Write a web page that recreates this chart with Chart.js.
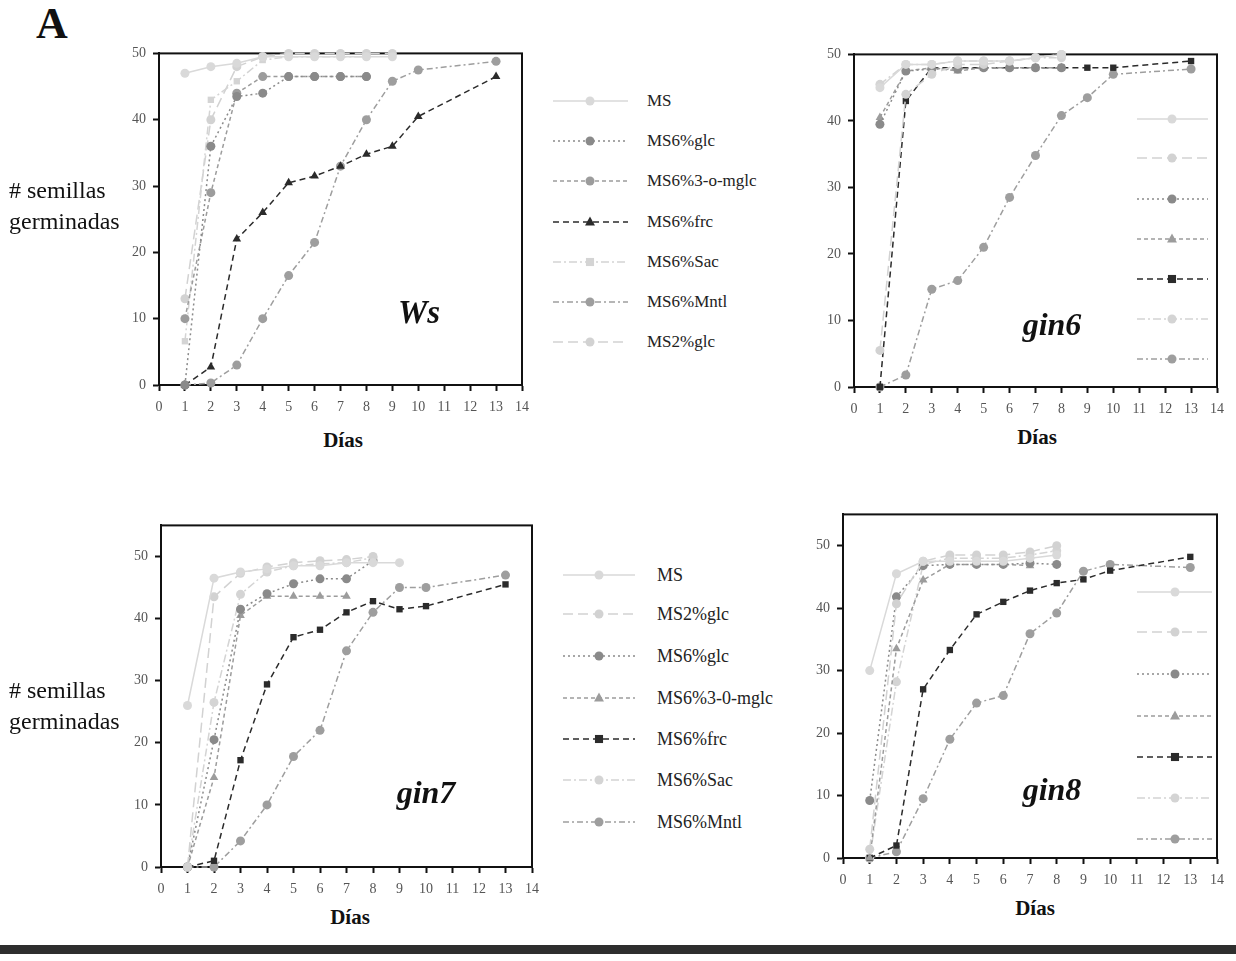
<!DOCTYPE html>
<html><head><meta charset="utf-8">
<script src="https://cdn.jsdelivr.net/npm/chart.js@4/dist/chart.umd.min.js"></script>
<style>
html,body{margin:0;padding:0;background:#fff;width:1236px;height:961px;overflow:hidden;position:relative;font-family:'Liberation Serif','DejaVu Serif',serif;}
canvas{position:absolute;}
.t{position:absolute;white-space:nowrap;color:#111;line-height:1;}
.lg{position:absolute;white-space:nowrap;color:#222;font-size:17px;line-height:20px;}
.bar{position:absolute;left:0;top:945px;width:1236px;height:9px;background:#2e2e2e;}
</style></head><body>
<script>
// ---------- data ----------
const days = [1,2,3,4,5,6,7,8,9,10,13];
const xTicks = [0,1,2,3,4,5,6,7,8,9,10,11,12,13,14];
const yTicks = [0,10,20,30,40,50];

// Ws
const ws_MS   = [47, 48, 48.5, 49.5, 49.5, 49.5, 49.5, 49.5, 49.5, null, null];
const ws_glc6 = [0, 36, 43.5, 44, 46.5, 46.5, 46.5, 46.5, null, null, null];
const ws_mglc = [10, 29, 44, 46.5, 46.5, 46.5, 46.5, 46.5, null, null, null];
const ws_frc  = [0, 2.7, 22, 26, 30.5, 31.5, 33, 34.8, 36, 40.5, 46.5];
const ws_sac  = [6.6, 43, 45.8, 49, 49.5, 49.5, 49.5, 49.5, null, null, null];
const ws_mntl = [0, 0.3, 3, 10, 16.5, 21.5, 33, 40, 45.8, 47.5, 48.8];
const ws_glc2 = [13, 40, 48, 49.5, 50, 50, 50, 50, 50, null, null];

// gin6
const g6_MS   = [45, 48.5, 48.5, 49, 49, 49, 49.5, 50, null, null, null];
const g6_glc2 = [5.5, 44, 47, 48.5, 48.5, 49, 49.5, 50, null, null, null];
const g6_glc6 = [39.5, 47.5, 47.8, 47.8, 48, 48, 48, 48, null, null, null];
const g6_mglc = [40.5, 47.5, 48, 47.5, 48, 48, 48, 48, null, null, null];
const g6_frc  = [0, 43, 48, 48, 48, 48, 48, 48, 48, 48, 49];
const g6_sac  = [45.5, 48.5, 48.5, 49, 49, 49, 49.5, 49.5, null, null, null];
const g6_mntl = [0, 1.8, 14.7, 16, 21, 28.5, 34.8, 40.8, 43.5, 47, 47.8];

// gin7
const g7_MS   = [26, 46.5, 47.5, 48, 48.5, 48.5, 49, 49, 49, null, null];
const g7_glc2 = [0, 43.5, 47.3, 48.3, 49, 49.3, 49.5, 50, null, null, null];
const g7_glc6 = [0, 20.5, 41.5, 44, 45.6, 46.4, 46.4, 49.3, null, null, null];
const g7_mglc = [0, 14.4, 40.5, 43.6, 43.6, 43.6, 43.6, null, null, null, null];
const g7_frc  = [0, 1, 17.2, 29.4, 37, 38.2, 41, 42.8, 41.5, 42, 45.5];
const g7_sac  = [0, 26.5, 43.9, 47.5, 48.5, 48.8, 49, 49.8, null, null, null];
const g7_mntl = [0, 0, 4.2, 10, 17.8, 22, 34.8, 41, 45, 45, 47];

// gin8
const g8_MS   = [30, 45.5, 47.5, 47.5, 47.5, 47.5, 48, 48.5, null, null, null];
const g8_glc2 = [1.4, 40.7, 47.5, 48.5, 48.5, 48.5, 49, 50, null, null, null];
const g8_glc6 = [9.2, 41.8, 46.8, 47, 47, 47, 47.2, 47, null, null, null];
const g8_mglc = [0, 33.5, 44.5, 47, 47, 47, 46.8, null, null, null, null];
const g8_frc  = [0, 2, 27, 33.3, 39, 41, 42.8, 44, 44.6, 46, 48.2];
const g8_sac  = [0, 28.2, 47, 48, 48, 48, 48.5, 49.2, null, null, null];
const g8_mntl = [0, 1, 9.5, 19, 24.8, 26, 35.9, 39.2, 45.9, 47, 46.5];

const wsNames  = ['MS','MS6%glc','MS6%3-o-mglc','MS6%frc','MS6%Sac','MS6%Mntl','MS2%glc'];
const ginNames = ['MS','MS2%glc','MS6%glc','MS6%3-0-mglc','MS6%frc','MS6%Sac','MS6%Mntl'];

// ---------- styles ----------
const STY = {
  MS:   {c:'#d9d9d9', dash:[], pt:'circle'},
  glc2: {c:'#d2d2d2', dash:[10,5], pt:'circle'},
  glc6: {c:'#8a8a8a', dash:[2,3], pt:'circle'},
  mglc: {c:'#9c9c9c', dash:[4,3], pt:'triangle'},
  frc:  {c:'#2b2b2b', dash:[6,4], pt:'rect'},
  sac:  {c:'#d4d4d4', dash:[8,3,2,3], pt:'circle'},
  mntl: {c:'#9e9e9e', dash:[6,3,2,3], pt:'circle'}
};

function mk(key, arr, ptOverride){
  const s = STY[key];
  return {key, data: arr, c: s.c, dash: s.dash, pt: ptOverride || s.pt};
}

function drawMarker(ctx, pt, x, y, r, col){
  ctx.save(); ctx.fillStyle = col; ctx.strokeStyle = col; ctx.setLineDash([]);
  ctx.beginPath();
  if (pt === 'triangle'){ ctx.moveTo(x, y - r*1.25); ctx.lineTo(x + r*1.1, y + r*0.8); ctx.lineTo(x - r*1.1, y + r*0.8); ctx.closePath(); }
  else if (pt === 'rect'){ ctx.rect(x - r*0.9, y - r*0.9, r*1.8, r*1.8); }
  else { ctx.arc(x, y, r, 0, Math.PI*2); }
  ctx.fill(); ctx.restore();
}

const framePlugin = {
  id: 'frame',
  beforeDatasetsDraw(chart){
    const {ctx, chartArea:a} = chart;
    ctx.save(); ctx.strokeStyle = '#111'; ctx.lineWidth = 2; ctx.setLineDash([]);
    ctx.strokeRect(a.left, a.top, a.right - a.left, a.bottom - a.top);
    ctx.restore();
  },
  afterDraw(chart, args, opts){
    if (!opts || !opts.legend) return;
    const ctx = chart.ctx; const L = opts.legend;
    L.rows.forEach((y, i) => {
      const s = opts.series[i];
      const yy = y - opts.oy;
      ctx.save(); ctx.strokeStyle = s.c; ctx.lineWidth = 1.5; ctx.setLineDash(s.dash);
      ctx.beginPath(); ctx.moveTo(L.x1 - opts.ox, yy); ctx.lineTo(L.x2 - opts.ox, yy); ctx.stroke();
      ctx.restore();
      drawMarker(ctx, s.pt, L.xm - opts.ox, yy, 4.5, s.c);
    });
  }
};
Chart.register(framePlugin);

function makePanel(box, yMax, series, legend, padR){
  const cl = box.l - 60, ct = box.t - 12;
  const cw = box.r - box.l + 60 + padR, ch = box.b - box.t + 12 + 36;
  const cv = document.createElement('canvas');
  cv.width = cw; cv.height = ch;
  cv.style.left = cl + 'px'; cv.style.top = ct + 'px';
  cv.style.width = cw + 'px'; cv.style.height = ch + 'px';
  document.body.appendChild(cv);
  const datasets = series.map(s => ({
    label: s.key,
    data: days.map((d, i) => ({x: d, y: s.data[i]})).filter(p => p.y !== null),
    borderColor: s.c, backgroundColor: s.c, borderWidth: 1.5, borderDash: s.dash,
    pointStyle: s.pt, pointRadius: s.pt === 'triangle' ? 5 : 4.5, pointBorderWidth: 0,
    pointBackgroundColor: s.c, tension: 0, clip: false, fill: false
  }));
  const tickFont = {family: "'Liberation Serif', serif", size: 14};
  new Chart(cv.getContext('2d'), {
    type: 'line',
    data: {datasets},
    options: {
      responsive: false, animation: false, devicePixelRatio: 1,
      layout: {padding: {left: 0, top: 12, right: padR, bottom: 0}},
      plugins: {legend: {display: false}, tooltip: {enabled: false},
        frame: {legend, series, ox: cl, oy: ct}},
      scales: {
        x: {type: 'linear', min: 0, max: 14,
          afterBuildTicks: sc => { sc.ticks = xTicks.map(v => ({value: v})); },
          afterFit: sc => { sc.height = 36; },
          grid: {drawOnChartArea: false, drawTicks: true, tickLength: 6, tickColor: '#111', tickWidth: 2},
          border: {display: true, color: '#111', width: 2},
          ticks: {font: tickFont, color: '#555', padding: 8, maxRotation: 0, autoSkip: false}},
        y: {type: 'linear', min: 0, max: yMax,
          afterBuildTicks: sc => { sc.ticks = yTicks.map(v => ({value: v})); },
          afterFit: sc => { sc.width = 60; },
          grid: {drawOnChartArea: false, drawTicks: true, tickLength: 6, tickColor: '#111', tickWidth: 2},
          border: {display: true, color: '#111', width: 2},
          ticks: {font: tickFont, color: '#555', padding: 7}}
      }
    }
  });
}

function text(str, x, y, size, weight, style, align){
  const d = document.createElement('div');
  d.className = 't'; d.textContent = str;
  d.style.fontSize = size + 'px'; d.style.fontWeight = weight || 'normal'; d.style.fontStyle = style || 'normal';
  d.style.top = (y - size*0.5) + 'px'; d.style.lineHeight = size + 'px';
  if (align === 'center'){ d.style.left = (x - 200) + 'px'; d.style.width = '400px'; d.style.textAlign = 'center'; }
  else d.style.left = x + 'px';
  document.body.appendChild(d);
}
function legendText(names, x, rows, size){
  names.forEach((n, i) => {
    const d = document.createElement('div'); d.className = 'lg'; d.textContent = n;
    d.style.fontSize = size + 'px'; d.style.left = x + 'px'; d.style.top = (rows[i] - 10) + 'px';
    document.body.appendChild(d);
  });
}

// ---------- panels ----------
const wsSeries = [mk('MS', ws_MS), mk('glc6', ws_glc6), mk('mglc', ws_mglc, 'circle'), mk('frc', ws_frc, 'triangle'),
                  mk('sac', ws_sac, 'rect'), mk('mntl', ws_mntl), mk('glc2', ws_glc2)];
const wsRows = [101, 141, 181, 222, 262, 302, 342];
makePanel({l:159, t:50, r:522, b:385}, 50, wsSeries, {rows: wsRows, x1: 553, x2: 628, xm: 590}, 118);

const g6Series = [mk('MS', g6_MS), mk('glc2', g6_glc2), mk('glc6', g6_glc6), mk('mglc', g6_mglc), mk('frc', g6_frc), mk('sac', g6_sac), mk('mntl', g6_mntl)];
makePanel({l:854, t:51, r:1220, b:387}, 50, g6Series, {rows: [119,158,199,239,279,319,359], x1: 1137, x2: 1208, xm: 1172}, 12);

const g7Series = [mk('MS', g7_MS), mk('glc2', g7_glc2), mk('glc6', g7_glc6), mk('mglc', g7_mglc), mk('frc', g7_frc), mk('sac', g7_sac), mk('mntl', g7_mntl)];
const g7Rows = [575, 614, 656, 698, 739, 780, 822];
makePanel({l:161, t:522, r:532, b:867}, 55, g7Series, {rows: g7Rows, x1: 563, x2: 635, xm: 599}, 113);

const g8Series = [mk('MS', g8_MS), mk('glc2', g8_glc2), mk('glc6', g8_glc6), mk('mglc', g8_mglc), mk('frc', g8_frc), mk('sac', g8_sac), mk('mntl', g8_mntl)];
makePanel({l:843, t:511, r:1218, b:858}, 55, g8Series, {rows: [592,632,674,716,757,798,839], x1: 1137, x2: 1212, xm: 1175}, 14);

// ---------- texts ----------
text('A', 36, 24, 44, 'bold');
[[190, '# semillas'], [221, 'germinadas']].forEach(([y, s]) => text(s, 9, y, 24));
[[690, '# semillas'], [721, 'germinadas']].forEach(([y, s]) => text(s, 9, y, 24));
text('Días', 343, 440, 21, 'bold', 'normal', 'center');
text('Días', 1037, 437, 21, 'bold', 'normal', 'center');
text('Días', 350, 917, 21, 'bold', 'normal', 'center');
text('Días', 1035, 908, 21, 'bold', 'normal', 'center');
text('Ws', 419, 312, 33, 'bold', 'italic', 'center');
text('gin6', 1052, 324, 32, 'bold', 'italic', 'center');
text('gin7', 426, 792, 32, 'bold', 'italic', 'center');
text('gin8', 1052, 789, 32, 'bold', 'italic', 'center');
legendText(wsNames, 647, wsRows, 17);
legendText(ginNames, 657, g7Rows, 18);
const bar = document.createElement('div'); bar.className = 'bar'; document.body.appendChild(bar);
</script>
</body></html>
